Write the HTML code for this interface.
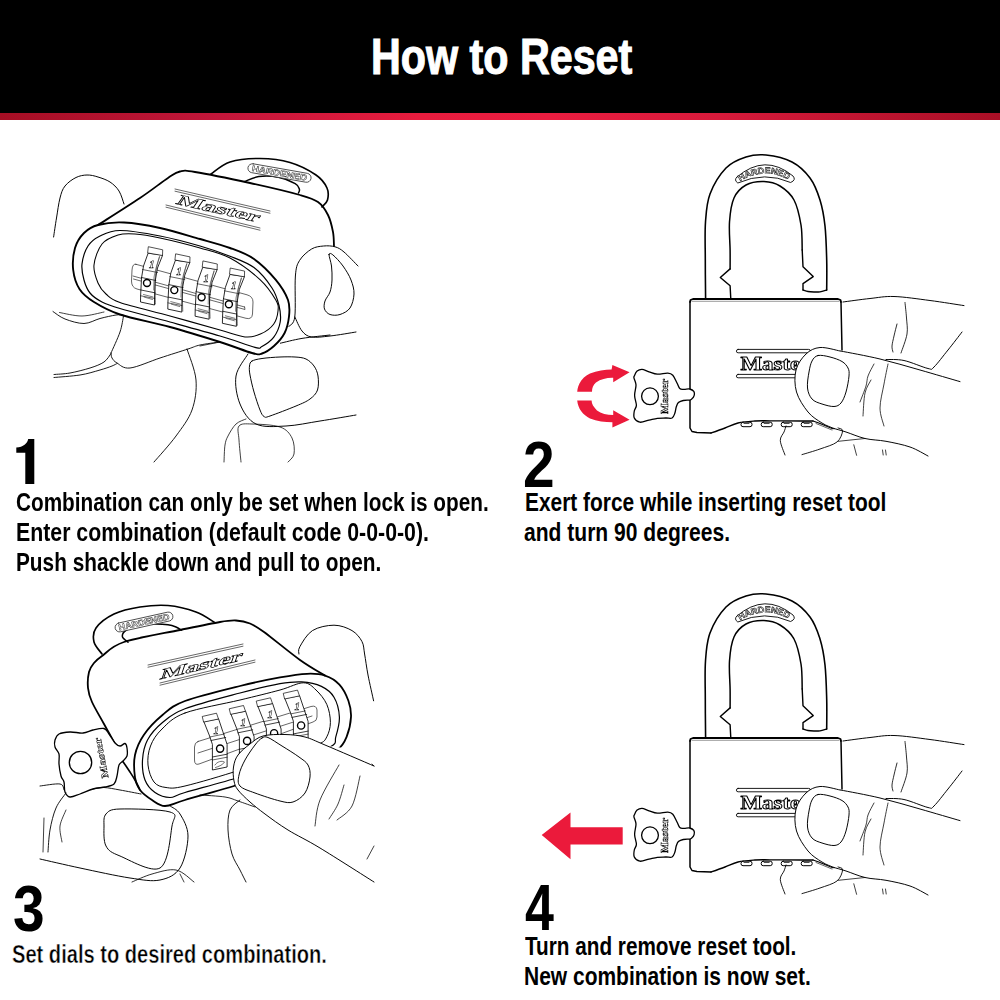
<!DOCTYPE html>
<html><head><meta charset="utf-8">
<style>
html,body{margin:0;padding:0;background:#fff;}
body{width:1000px;height:1000px;position:relative;overflow:hidden;font-family:"Liberation Sans",sans-serif;}
#hdr{position:absolute;left:0;top:0;width:1000px;height:113px;background:#000;}
#red{position:absolute;left:0;top:113px;width:1000px;height:7px;background:linear-gradient(90deg,#a60e24 0%,#c2163a 22%,#e81c3e 42%,#ea1d40 55%,#d71a3b 72%,#a90f26 100%);}
.t{position:absolute;white-space:nowrap;font-weight:bold;color:#000;transform-origin:0 0;line-height:1;}
#title{color:#fff;font-size:50px;-webkit-text-stroke:1.1px #fff;}
.num{font-size:65px;}
.ln{font-size:26px;}
svg{position:absolute;left:0;top:0;will-change:transform;}
</style></head><body>
<div id="hdr"></div><div id="red"></div>
<div class="t" id="title" style="left:371px;top:32px;transform:scaleX(0.825)">How to Reset</div>

<svg style="position:absolute;left:0;top:0" width="60" height="500"><path d="M25.3,484 L34.3,484 L34.3,439 L28.2,439 C27.2,443.5 23.5,447.2 16.3,447.4 L16.3,452.7 L25.3,452.7 Z" fill="#000"/></svg>
<div class="t ln" style="left:16.2px;top:489px;transform:scaleX(0.798)">Combination can only be set when lock is open.</div>
<div class="t ln" style="left:15.9px;top:519px;transform:scaleX(0.819)">Enter combination (default code 0-0-0-0).</div>
<div class="t ln" style="left:15.9px;top:549px;transform:scaleX(0.800)">Push shackle down and pull to open.</div>

<div class="t num" style="left:523.2px;top:432px;transform:scaleX(0.875)">2</div>
<div class="t ln" style="left:525px;top:489px;transform:scaleX(0.804)">Exert force while inserting reset tool</div>
<div class="t ln" style="left:524.2px;top:519px;transform:scaleX(0.81)">and turn 90 degrees.</div>

<div class="t num" style="left:13.2px;top:876px;transform:scaleX(0.875)">3</div>
<div class="t ln" style="left:12.2px;top:941px;transform:scaleX(0.773);-webkit-text-stroke:0.5px #fff">Set dials to desired combination.</div>

<div class="t num" style="left:525.2px;top:875px;transform:scaleX(0.8)">4</div>
<div class="t ln" style="left:525.4px;top:933px;transform:scaleX(0.797)">Turn and remove reset tool.</div>
<div class="t ln" style="left:524.4px;top:963px;transform:scaleX(0.807)">New combination is now set.</div>

<!--SVG--><svg width="1000" height="1000" viewBox="0 0 1000 1000" fill="none" stroke="#000" stroke-linecap="round" stroke-linejoin="round"><path d="M53.6,237C54.1,233.8 55.4,224.5 56.5,218C57.6,211.5 58.6,203.3 60,198C61.4,192.7 62.3,189.4 65,186C67.7,182.6 72.3,179.3 76,177.5C79.7,175.7 83.3,175.1 87,175C90.7,174.9 94.2,175.8 98,177C101.8,178.2 106.5,179.7 110,182C113.5,184.3 116.7,187.3 119,191C121.3,194.7 123.2,201.8 124,204" stroke-width="0.98" fill="none"/>
<path d="M98,225C105,220.5 128.3,205.8 140,198C151.7,190.2 161.3,182.4 168,178C174.7,173.6 175.5,172.5 180,171.5C184.5,170.5 183.3,170.1 195,172C206.7,173.9 232.5,179.2 250,183C267.5,186.8 288.7,191.8 300,195C311.3,198.2 313.3,198.7 318,202C322.7,205.3 325.5,210 328,215C330.5,220 332,226.8 333,232C334,237.2 333.8,243.7 334,246" stroke-width="1.80" fill="none"/>
<path d="M211,174C214.2,172 221.8,164.6 230,162C238.2,159.4 250,158.4 260,158.5C270,158.6 280.7,159.8 290,162.5C299.3,165.2 309.8,170.8 316,175C322.2,179.2 325.1,183.8 327,188C328.9,192.2 328.3,196.8 327.5,200C326.7,203.2 322.9,205.8 322,207" stroke-width="1.65" fill="none"/>
<path d="M244.8,181.5C247.1,180.7 253.2,177.3 258.8,176.6C264.4,175.9 272.3,176.1 278.4,177.3C284.5,178.5 291.7,181.6 295.2,183.6C298.7,185.6 298.8,187.6 299.4,189.2C299.9,190.8 298.6,192.4 298.5,193" stroke-width="1.50" fill="none"/>
<rect x="247.5" y="168.5" width="64" height="9" rx="4.5" transform="rotate(10 279.5 173)" stroke-width="0.8" stroke="#333" fill="#fff"/>
<text x="279.5" y="176" transform="rotate(10 279.5 173)" text-anchor="middle" font-size="8.5" font-weight="bold" fill="#fff" stroke="#222" stroke-width="0.45" textLength="56" lengthAdjust="spacingAndGlyphs">HARDENED</text>
<path d="M175,189L270,211" stroke-width="0.60" fill="none"/>
<path d="M166,205L260,228" stroke-width="0.60" fill="none"/>
<path d="M175,191.2L270,213.2" stroke-width="0.60" fill="none"/>
<path d="M166,207.2L260,230.2" stroke-width="0.60" fill="none"/>
<text x="0" y="5" transform="translate(219,208.5) rotate(12.5) skewX(-22)" text-anchor="middle" font-family="Liberation Serif" font-weight="bold" font-size="15" fill="#fff" stroke="#000" stroke-width="0.55" textLength="84" lengthAdjust="spacingAndGlyphs">Master</text>
<path d="M98,225C104.7,223.2 113.7,222 124,222.5C134.3,223 147.3,225.2 160,228C172.7,230.8 188.3,235.7 200,239C211.7,242.3 221,244.7 230,248C239,251.3 246.4,253.7 254,259C261.6,264.3 269.9,272.8 275.6,279.6C281.3,286.4 285.8,293.9 288,300C290.2,306.1 289.6,311 289,316.5C288.4,322 287.1,328.1 284.6,333C282.1,337.9 277.8,342.6 274,346C270.2,349.4 265.7,352.3 262,353.5C258.3,354.7 259,354.9 252,353C245,351.1 233.7,346.3 220,342C206.3,337.7 186.7,331.6 170,327C153.3,322.4 132.7,318.7 120,314.5C107.3,310.3 100.7,306.2 94,302C87.3,297.8 83.1,294.5 79.6,289.2C76.1,283.9 74,276.9 73.2,270C72.4,263.1 73.2,254.2 75,248C76.8,241.8 80.2,236.8 84,233C87.8,229.2 91.3,226.8 98,225Z" stroke-width="1.88" fill="none"/>
<path d="M120,230.5C110,230.5 105.3,233.4 100,236C94.7,238.6 91,241.3 88,246C85,250.7 82.7,258.3 82,264C81.3,269.7 82.7,275.2 84,280C85.3,284.8 87,289.3 90,293C93,296.7 97,299.4 102,302C107,304.6 108.7,305.2 120,308.5C131.3,311.8 153.3,317.4 170,322C186.7,326.6 205.8,331.8 220,336C234.2,340.2 248.1,345.5 255,347.3C261.9,349.1 258.4,348.5 261.5,346.8C264.6,345.1 270.5,341.5 273.6,337.4C276.7,333.3 279.3,327.3 280.2,322C281.1,316.7 280.4,311.2 279,305.5C277.6,299.8 276.2,294.3 272,288C267.8,281.7 261,272.9 254,267.6C247,262.3 239,259.8 230,256.2C221,252.6 211.7,249.4 200,246C188.3,242.6 173.3,238.6 160,236C146.7,233.4 130,230.5 120,230.5Z" stroke-width="1.20" fill="none"/>
<path d="M118,235C112.5,236.7 106,239 102,244C98,249 94.7,258.5 94,265C93.3,271.5 96,278.2 98,283C100,287.8 102.3,290.8 106,294C109.7,297.2 109.3,298.8 120,302.5C130.7,306.2 153.3,311.4 170,316C186.7,320.6 207.5,326.5 220,330C232.5,333.5 238.3,336.2 245,336.9C251.7,337.6 255.6,336.2 260.4,334.1C265.2,332 270.7,328.1 273.6,324.2C276.5,320.3 277.6,315 278,311C278.4,307 278.8,305.2 275.8,300C272.8,294.8 267.6,286.6 260,279.6C252.4,272.6 240,263.3 230,258C220,252.7 211.7,251.3 200,248C188.3,244.7 170.8,240.3 160,238C149.2,235.7 142,234.5 135,234C128,233.5 123.5,233.3 118,235Z" stroke-width="1.05" fill="none"/>
<path d="M136,264.3 L247,294.8 Q253,296.5 253,302 L252.5,314 Q252,319.8 246,318.3 L137,289 Q131.5,287.5 131.5,281 L132,270 Q132.5,263.2 136,264.3 Z" stroke-width="0.7" stroke="#222"/>
<path d="M133,276L244.6,307" stroke-width="0.60" fill="none"/>
<path d="M244.6,307 L245,309.5 L133.5,279" stroke-width="0.60" fill="none"/>
<g transform="translate(0.0,0.0)"><path d="M148,253.5 L143.5,266 L141.5,278 L140.6,296 L140.5,302 L154.5,305 L154.5,298 L155.2,281 L157.5,268 L162.5,255.5Z" stroke-width="0.83" fill="#fff"/><path d="M148.7,246.8 L162.7,249.8 L162.5,255.5 L148,253Z" stroke-width="0.68" fill="#fff"/><path d="M142.5,269.5 L157.5,272.5" stroke-width="0.60" fill="none"/><path d="M141.5,277.5 L155.8,280.5" stroke-width="0.75" fill="none"/><path d="M141,290 L155,292.8" stroke-width="0.75" fill="none"/><path d="M140.7,295.8 L154.7,298.5" stroke-width="0.60" fill="none"/><path d="M159.5,257C159,258.8 157.2,264 156.5,268C155.8,272 155.2,275 155,281C154.8,287 155.4,300.2 155.5,304" stroke-width="0.52" fill="none"/><circle cx="147" cy="283" r="3.5" stroke-width="1.4" fill="none"/><text x="0" y="0" transform="translate(151,267.6) skewX(-12)" font-size="11" font-family="Liberation Serif" font-weight="bold" fill="#fff" stroke="#000" stroke-width="0.5" text-anchor="middle">1</text><path d="M143.5,294.5 L153,297 M144,297 L152.5,299.5" stroke-width="0.7" stroke="#444"/><path d="M159.5,256.5 L156,268 L154,277 L153.6,290" stroke-width="0.6" stroke="#444" fill="none"/></g>
<g transform="translate(27.3,7.1)"><path d="M148,253.5 L143.5,266 L141.5,278 L140.6,296 L140.5,302 L154.5,305 L154.5,298 L155.2,281 L157.5,268 L162.5,255.5Z" stroke-width="0.83" fill="#fff"/><path d="M148.7,246.8 L162.7,249.8 L162.5,255.5 L148,253Z" stroke-width="0.68" fill="#fff"/><path d="M142.5,269.5 L157.5,272.5" stroke-width="0.60" fill="none"/><path d="M141.5,277.5 L155.8,280.5" stroke-width="0.75" fill="none"/><path d="M141,290 L155,292.8" stroke-width="0.75" fill="none"/><path d="M140.7,295.8 L154.7,298.5" stroke-width="0.60" fill="none"/><path d="M159.5,257C159,258.8 157.2,264 156.5,268C155.8,272 155.2,275 155,281C154.8,287 155.4,300.2 155.5,304" stroke-width="0.52" fill="none"/><circle cx="147" cy="283" r="3.5" stroke-width="1.4" fill="none"/><text x="0" y="0" transform="translate(151,267.6) skewX(-12)" font-size="11" font-family="Liberation Serif" font-weight="bold" fill="#fff" stroke="#000" stroke-width="0.5" text-anchor="middle">1</text><path d="M143.5,294.5 L153,297 M144,297 L152.5,299.5" stroke-width="0.7" stroke="#444"/><path d="M159.5,256.5 L156,268 L154,277 L153.6,290" stroke-width="0.6" stroke="#444" fill="none"/></g>
<g transform="translate(54.6,14.2)"><path d="M148,253.5 L143.5,266 L141.5,278 L140.6,296 L140.5,302 L154.5,305 L154.5,298 L155.2,281 L157.5,268 L162.5,255.5Z" stroke-width="0.83" fill="#fff"/><path d="M148.7,246.8 L162.7,249.8 L162.5,255.5 L148,253Z" stroke-width="0.68" fill="#fff"/><path d="M142.5,269.5 L157.5,272.5" stroke-width="0.60" fill="none"/><path d="M141.5,277.5 L155.8,280.5" stroke-width="0.75" fill="none"/><path d="M141,290 L155,292.8" stroke-width="0.75" fill="none"/><path d="M140.7,295.8 L154.7,298.5" stroke-width="0.60" fill="none"/><path d="M159.5,257C159,258.8 157.2,264 156.5,268C155.8,272 155.2,275 155,281C154.8,287 155.4,300.2 155.5,304" stroke-width="0.52" fill="none"/><circle cx="147" cy="283" r="3.5" stroke-width="1.4" fill="none"/><text x="0" y="0" transform="translate(151,267.6) skewX(-12)" font-size="11" font-family="Liberation Serif" font-weight="bold" fill="#fff" stroke="#000" stroke-width="0.5" text-anchor="middle">1</text><path d="M143.5,294.5 L153,297 M144,297 L152.5,299.5" stroke-width="0.7" stroke="#444"/><path d="M159.5,256.5 L156,268 L154,277 L153.6,290" stroke-width="0.6" stroke="#444" fill="none"/></g>
<g transform="translate(81.9,21.3)"><path d="M148,253.5 L143.5,266 L141.5,278 L140.6,296 L140.5,302 L154.5,305 L154.5,298 L155.2,281 L157.5,268 L162.5,255.5Z" stroke-width="0.83" fill="#fff"/><path d="M148.7,246.8 L162.7,249.8 L162.5,255.5 L148,253Z" stroke-width="0.68" fill="#fff"/><path d="M142.5,269.5 L157.5,272.5" stroke-width="0.60" fill="none"/><path d="M141.5,277.5 L155.8,280.5" stroke-width="0.75" fill="none"/><path d="M141,290 L155,292.8" stroke-width="0.75" fill="none"/><path d="M140.7,295.8 L154.7,298.5" stroke-width="0.60" fill="none"/><path d="M159.5,257C159,258.8 157.2,264 156.5,268C155.8,272 155.2,275 155,281C154.8,287 155.4,300.2 155.5,304" stroke-width="0.52" fill="none"/><circle cx="147" cy="283" r="3.5" stroke-width="1.4" fill="none"/><text x="0" y="0" transform="translate(151,267.6) skewX(-12)" font-size="11" font-family="Liberation Serif" font-weight="bold" fill="#fff" stroke="#000" stroke-width="0.5" text-anchor="middle">1</text><path d="M143.5,294.5 L153,297 M144,297 L152.5,299.5" stroke-width="0.7" stroke="#444"/><path d="M159.5,256.5 L156,268 L154,277 L153.6,290" stroke-width="0.6" stroke="#444" fill="none"/></g>
<path d="M53,311.5C55,312.8 59.8,317 65,319C70.2,321 78.2,323.6 84,323.5C89.8,323.4 94.7,319.9 100,318.5C105.3,317.1 112.2,315.6 116,315C119.8,314.4 121.8,315 123,315" stroke-width="0.90" fill="none"/>
<path d="M59.5,312.5C63.2,313.1 74.6,316.1 82,316C89.4,315.9 100.3,312.7 104,312" stroke-width="0.75" fill="none"/>
<path d="M123.5,316C122.9,318.7 122.1,325.8 120,332C117.9,338.2 112.5,349.5 111,353" stroke-width="0.90" fill="none"/>
<path d="M54,374.5C56.7,374.2 64,374.1 70,373C76,371.9 84.3,369.8 90,368C95.7,366.2 100.5,364.4 104,362C107.5,359.6 109.8,354.9 111,353.5" stroke-width="0.90" fill="none"/>
<path d="M54,377.5C58.3,377.1 72.3,376.2 80,375C87.7,373.8 94.7,371.5 100,370C105.3,368.5 109.2,367.1 112,366C114.8,364.9 116.2,363.9 117,363.5" stroke-width="0.90" fill="none"/>
<path d="M111,353C111.2,353.8 111,356.3 112,358C113,359.7 114,361.3 117,363C120,364.7 122.8,368.8 130,368C137.2,367.2 150.3,361.2 160,358C169.7,354.8 181.3,351.2 188,349C194.7,346.8 194.7,346.2 200,345C205.3,343.8 216.7,342.5 220,342" stroke-width="0.90" fill="none"/>
<path d="M187,349C188.5,354.2 195.2,369.8 196,380C196.8,390.2 195.3,400.7 192,410C188.7,419.3 182.3,427.3 176,436C169.7,444.7 157.7,457.7 154,462" stroke-width="0.90" fill="none"/>
<path d="M200,346L220,342" stroke-width="0.75" fill="none"/>
<path d="M288.8,326.4C289.8,324.8 293.7,325.2 294.8,316.8C295.9,308.4 294.6,285.4 295.4,276C296.2,266.6 296.9,264.9 299.6,260.4C302.3,255.9 307.6,251.4 311.6,249C315.6,246.6 319.7,246.4 323.6,246C327.5,245.6 331.6,245.8 335,246.8C338.4,247.8 340.2,248.8 344,252C347.8,255.2 355.7,263.7 358,266" stroke-width="0.98" fill="none"/>
<path d="M329,254.5C328.8,256.3 331,261.8 331.5,266C332,270.2 332.2,275.7 332,280C331.8,284.3 331.2,288.5 330,292C328.8,295.5 325.9,298.2 325,301C324.1,303.8 323.7,306.8 324.5,309C325.3,311.2 327.4,313.6 330,314.5C332.6,315.4 336.7,315.6 340,314.5C343.3,313.4 347.7,311.4 350,308C352.3,304.6 353.8,298.7 354,294C354.2,289.3 352.8,284.7 351,280C349.2,275.3 346,270.2 343,266C340,261.8 335.3,256.9 333,255C330.7,253.1 329.2,252.7 329,254.5Z" stroke-width="0.98" fill="none"/>
<path d="M294.8,316.8C296,319.2 299.2,327.6 302,331C304.8,334.4 306.9,336.2 311.6,337C316.3,337.8 322.6,336.8 330,336C337.4,335.2 351.7,332.7 356,332" stroke-width="0.98" fill="none"/>
<path d="M280.4,343.2C284,342.4 293.7,339.8 302,338.4C310.3,337 325.3,335.6 330,335" stroke-width="0.98" fill="none"/>
<path d="M248,354C246,357.7 237.3,367.7 236,376C234.7,384.3 236.7,396 240,404C243.3,412 248.3,420.3 256,424C263.7,427.7 275.3,426.5 286,426C296.7,425.5 308.3,422.8 320,421C331.7,419.2 350,416 356,415" stroke-width="0.98" fill="none"/>
<path d="M252,361C254.1,359.8 257.3,359.2 262,358.5C266.7,357.8 274.5,357.2 280,357C285.5,356.8 290.7,356.7 295,357C299.3,357.3 302.8,357.5 306,359C309.2,360.5 312,363.2 314,366C316,368.8 317.4,372 318,376C318.6,380 318.8,386.2 317.5,390C316.2,393.8 313.6,396.3 310,399C306.4,401.7 302.7,403.2 296,406C289.3,408.8 275.3,414.2 270,416C264.7,417.8 265.7,417.5 264,416.5C262.3,415.5 261.7,414.1 260,410C258.3,405.9 255.7,397.8 254,392C252.3,386.2 250.8,379.3 250,375C249.2,370.7 249.2,368.3 249.5,366C249.8,363.7 249.9,362.2 252,361Z" stroke-width="0.98" fill="none"/>
<path d="M224,462C224.2,459.2 224.3,449.3 225,445C225.7,440.7 226.2,439.5 228,436C229.8,432.5 233,426.8 236,424C239,421.2 244.3,419.8 246,419" stroke-width="0.75" fill="none"/>
<path d="M241,462C240.7,458.3 239.3,446 239,440C238.7,434 236.8,428.7 239,426C241.2,423.3 245.2,423.8 252,424C258.8,424.2 273.3,424.7 280,427C286.7,429.3 289.7,433.5 292,438C294.3,442.5 294.7,450 294,454C293.3,458 289,460.7 288,462" stroke-width="0.75" fill="none"/>
<g id="lock2"><path d="M705.6,299C705.5,292.5 705.3,272.8 705.3,260C705.3,247.2 704.7,233 705.5,222C706.3,211 706.6,203 710,194C713.4,185 720,174.2 726,168C732,161.8 739.3,159.2 746,157C752.7,154.8 758.3,154.2 766,155C773.7,155.8 784.7,158.2 792,162C799.3,165.8 805.3,171.7 810,178C814.7,184.3 817.5,192 820,200C822.5,208 823.9,216 825,226C826.1,236 826.4,249.3 826.7,260C827,270.7 826.7,285 826.7,290" stroke-width="1.58" fill="none"/>
<path d="M826.7,290C825.6,290.3 822,291.5 820,291.8C818,292.1 816.8,292.1 814.8,292C812.8,291.9 810,291.8 808,291.5C806,291.2 803.8,290.2 803,290" stroke-width="1.35" fill="none"/>
<path d="M803,290 L803,283.6 L813.2,276.6 L803,266.8 L802.2,250" stroke-width="1.42" fill="none"/>
<path d="M802.2,250C802,245.8 802.4,233.3 801,225C799.6,216.7 797.5,206.5 794,200C790.5,193.5 785,189.1 780,186C775,182.9 769.7,181.7 764,181.5C758.3,181.3 751,182.2 746,185C741,187.8 736.8,191.8 734,198C731.2,204.2 730.1,213.3 729.5,222C728.9,230.7 730,242.2 730.1,250C730.2,257.8 730.1,265.8 730.1,268.9" stroke-width="1.50" fill="none"/>
<path d="M730.1,268.9 L720.3,277.5 L730.1,285.7 L730.8,299" stroke-width="1.42" fill="none"/>
<path d="M737,177 Q765,153 793,176 Q796.5,180 790.6,182.5 Q765,171 737.8,183 Q733.5,180 737,177 Z" stroke-width="0.9"/>
<path id="hpath" d="M740,181.5 Q765,165.5 791,181" fill="none" stroke="none"/>
<text font-size="8.5" font-weight="bold" fill="#fff" stroke="#000" stroke-width="0.55"><textPath href="#hpath" textLength="51" lengthAdjust="spacingAndGlyphs">HARDENED</textPath></text>
<path d="M690,302 L690.5,300 L693,299 L838,299 L840.5,300 L841,302" stroke-width="1.80" fill="none"/>
<path d="M692,301.3L839,301.3" stroke-width="0.75" fill="none" stroke="#777"/>
<path d="M690,302 L690,428 L692,431.5 L697,432.5 L711,433" stroke-width="1.50" fill="none"/>
<path d="M711,433C713.3,432.2 720.5,429.7 725,428C729.5,426.3 733,424.2 738,423C743,421.8 749.7,421.4 755,421C760.3,420.6 762.5,420.8 770,420.8C777.5,420.8 792.8,421 800,421C807.2,421 810.8,421 813,421" stroke-width="1.35" fill="none"/>
<path d="M813,421 L818.8,423 L832.8,428.7 L837,428" stroke-width="1.12" fill="none"/>
<path d="M816,423.5L832,430" stroke-width="0.60" fill="none"/>
<path d="M841,302L842,350" stroke-width="1.50" fill="none"/>
<rect x="741" y="422.2" width="11" height="4.5" rx="2" stroke-width="1" fill="#fff"/>
<path d="M744,423.5 h5" stroke-width="0.7"/>
<rect x="761.2" y="422.2" width="11" height="4.5" rx="2" stroke-width="1" fill="#fff"/>
<path d="M764.2,423.5 h5" stroke-width="0.7"/>
<rect x="781.2" y="422.2" width="11" height="4.5" rx="2" stroke-width="1" fill="#fff"/>
<path d="M784.2,423.5 h5" stroke-width="0.7"/>
<rect x="801.2" y="422.2" width="11" height="4.5" rx="2" stroke-width="1" fill="#fff"/>
<path d="M804.2,423.5 h5" stroke-width="0.7"/>
<rect x="736.4" y="349.4" width="74" height="3.4" rx="1.7" stroke-width="0.9"/>
<rect x="736.4" y="374.4" width="64" height="3.4" rx="1.7" stroke-width="0.9"/>
<text x="740.4" y="369.6" font-family="Liberation Serif" font-weight="bold" font-size="18.5" fill="#fff" stroke="#000" stroke-width="0.9" textLength="70" lengthAdjust="spacingAndGlyphs">Master</text>
<path d="M634.3,376C634.8,374.8 635.8,372.2 637.1,371.1C638.4,370 640,369.2 642,369.3C644,369.4 646.4,371 649,371.8C651.6,372.6 654.2,374 657.4,374.2C660.5,374.4 665.3,373 667.9,373.2C670.5,373.4 671.3,373.7 672.8,375.3C674.3,376.9 675.8,380.8 677,383C678.2,385.2 678.6,387.6 679.8,388.6C681,389.7 682.4,389.2 684,389.3C685.6,389.4 688,388.6 689.6,389C691.2,389.4 693,390.3 693.8,391.4C694.5,392.5 694.5,394.3 694.1,395.6C693.8,396.9 692.5,398.4 691.7,399.1C691,399.9 691,399.9 689.6,400.1C688.2,400.3 685.2,400.1 683.3,400.5C681.4,400.9 679.6,401.6 678.4,402.6C677.2,403.7 676.9,405.1 676.3,406.8C675.7,408.6 675.6,411.2 674.9,413.1C674.2,415 673.6,417.2 672.1,418C670.6,418.8 668.2,417.9 665.8,418C663.3,418.1 660.2,417.9 657.4,418.3C654.6,418.7 651.9,419.5 649,420.1C646.1,420.8 642.4,422.6 639.9,422.2C637.4,421.8 635.2,419.9 634.3,418C633.4,416.1 633.9,413.1 634.3,411C634.6,408.9 636.3,408 636.4,405.4C636.5,402.8 634.7,399 634.6,395.6C634.5,392.2 636.1,388 636,385.1C635.9,382.2 634.3,379.6 634,378.1C633.7,376.6 633.8,377.2 634.3,376Z" stroke-width="1.31" fill="#fff"/>
<circle cx="650" cy="396.3" r="8.4" stroke-width="1.3"/>
<text x="0" y="0" transform="translate(668,414) rotate(-90)" font-family="Liberation Serif" font-weight="bold" font-size="9.5" fill="#fff" stroke="#000" stroke-width="0.5" textLength="35" lengthAdjust="spacingAndGlyphs">Master</text>
<path d="M843,302C847.5,301.4 861.5,299.4 870,298.5C878.5,297.6 884,296.2 894,296.5C904,296.8 918.3,299 930,300.5C941.7,302 958.3,304.8 964,305.6" stroke-width="0.98" fill="none"/>
<path d="M905,302.5C905.2,305.1 906.2,312.8 906.5,318C906.8,323.2 907.9,328.2 907,334C906.1,339.8 902,349.8 901,353" stroke-width="0.83" fill="none"/>
<path d="M897,324C896.5,326 894.8,332.3 894,336C893.2,339.7 892.2,343.3 892,346C891.8,348.7 892.8,351 893,352" stroke-width="0.83" fill="none"/>
<path d="M962,332C959.7,335 952.7,344.2 948,350C943.3,355.8 937.3,363.9 934,367C930.7,370.1 933,369.6 928,368.5C923,367.4 911,362 904,360.5C897,359 889,359.7 886,359.5" stroke-width="0.98" fill="none"/>
<path d="M806,354C810,350.2 814.3,348 820,347.5C825.7,347 830,349.1 840,351C850,352.9 866.7,355.8 880,359C893.3,362.2 906.7,366.2 920,370C933.3,373.8 953.3,366.6 960,381.6C966.7,396.6 965.3,447.6 960,460C954.7,472.4 936.3,458.2 928,456C919.7,453.8 917,449.4 910,447C903,444.6 893.5,442.7 886,441.3C878.5,439.9 871.7,440.1 865,438.5C858.3,436.9 851.2,433.7 846,432C840.8,430.3 838,430 834,428.5C830,427 826.3,425.8 822,423C817.7,420.2 812.2,417.2 808,412C803.8,406.8 798.5,399 796.5,392C794.5,385 794.4,376.3 796,370C797.6,363.7 802,357.8 806,354Z" stroke-width="0.00" fill="#fff" stroke="none"/>
<path d="M840.5,351C847.1,352.3 866.8,355.8 880,359C893.2,362.2 906.7,366.2 920,370C933.3,373.8 953.3,379.7 960,381.6" stroke-width="0.98" fill="none"/>
<path d="M840,351C836.7,350.4 825.7,347 820,347.5C814.3,348 810,350.2 806,354C802,357.8 797.6,363.7 796,370C794.4,376.3 794.5,385 796.5,392C798.5,399 803.8,406.8 808,412C812.2,417.2 817.7,420.2 822,423C826.3,425.8 832,427.6 834,428.5" stroke-width="0.98" fill="none"/>
<path d="M834,428.5C836,429.1 840.8,430.3 846,432C851.2,433.7 858.3,436.9 865,438.5C871.7,440.1 878.5,439.9 886,441.3C893.5,442.7 903,444.6 910,447C917,449.4 925,454.5 928,456" stroke-width="0.98" fill="none"/>
<path d="M818,355.5C821,354.8 826,356 830,357C834,358 839,359.7 842,361.5C845,363.3 846.8,365.6 848,368C849.2,370.4 849.3,372 849,376C848.7,380 847.3,387.5 846,392C844.7,396.5 843,400.6 841,403C839,405.4 837.2,406.3 834,406.5C830.8,406.7 825.7,405.2 822,404C818.3,402.8 814.4,401.7 812,399C809.6,396.3 808,392.5 807.5,388C807,383.5 808.2,376.5 809,372C809.8,367.5 810.5,363.8 812,361C813.5,358.2 815,356.2 818,355.5Z" stroke-width="0.98" fill="none"/>
<path d="M874,364C873,366 869.3,372.3 868,376C866.7,379.7 867.3,381.7 866,386C864.7,390.3 861,399.3 860,402" stroke-width="0.75" fill="none"/>
<path d="M871,380C870,382.2 866.3,387 865,393C863.7,399 863.3,412.2 863,416" stroke-width="0.75" fill="none"/>
<path d="M888,364C887.3,367.3 885.3,376.7 884,384C882.7,391.3 880,401 880,408C880,415 883.3,423 884,426" stroke-width="0.75" fill="none"/>
<path d="M785,455C784.2,452.6 780.5,444.4 780.3,440.6C780.1,436.8 783,434.4 784,432C785,429.6 785.7,427 786,426" stroke-width="0.90" fill="none"/>
<path d="M802,454.6C805,453.7 814.2,451.1 820,449C825.8,446.9 833.2,445 837,442C840.8,439 842.4,433.1 842.6,430.8C842.8,428.5 838.8,428.5 838,428" stroke-width="0.90" fill="none"/>
<path d="M838.4,441.3L865,438.5" stroke-width="0.75" fill="none"/>
<path d="M853.8,444.8L856.6,455.3" stroke-width="0.75" fill="none"/>
<path d="M882.5,450L883.2,455" stroke-width="0.75" fill="none"/>
<path d="M885.5,450L886.2,455" stroke-width="0.75" fill="none"/></g>
<use href="#lock2" transform="translate(0,439)"/>
<path d="M577.2,391.8 C578,382 584,376 590,373.5 C597,370.5 605,369.5 611.6,369.4 L612.4,365 L629.6,372.2 L613.2,382.2 L613.2,377.8 C607,377.6 601,379 596,382.5 C593,385 592,388 592,391.8 Z" fill="#eb1a3b" stroke="none"/>
<path d="M577.2,400.6 C578,409 583,415 590,418.5 C597,421.5 605,422.2 612.4,422.2 L612.4,427.4 L629.6,419.8 L613.2,410.2 L613.2,415 C607,415 601,413.5 597,410.5 C593.5,407 591.6,404 591.6,400.6 Z" fill="#eb1a3b" stroke="none"/>
<path d="M541.7,834.9 L570.5,812.4 L570.5,827.2 L622.7,827.2 L622.7,844.4 L570.5,844.4 L570.5,859.2 Z" fill="#eb1a3b" stroke="none"/>

<path d="M299,654C299.1,652.8 297.6,650.7 299.8,646.8C302,642.9 306.7,634.2 312.4,630.6C318.1,627 327.4,625.2 334,625.2C340.6,625.2 347.4,627.9 352,630.6C356.6,633.3 359.8,637.5 361.9,641.4C364,645.3 363.6,648.4 364.6,654C365.6,659.6 366.5,667.2 368,675C369.5,682.8 372.7,696.5 373.6,700.8" stroke-width="0.98" fill="none"/>
<path d="M102,654C100.7,652 95,646.3 94,642C93,637.7 92.7,632.7 96,628C99.3,623.3 106.7,617.5 114,614C121.3,610.5 131,608.4 140,607C149,605.6 158.7,604.7 168,605.5C177.3,606.3 188.3,609.2 196,612C203.7,614.8 211,620.3 214,622" stroke-width="1.65" fill="none"/>
<path d="M128,642.2C127.1,641.3 122.7,638.6 122.4,636.6C122.1,634.6 123.5,631.9 126.4,630C129.3,628.1 135.2,626.5 140,625.5C144.8,624.5 150.3,624.1 155,624C159.7,623.9 164.5,624.3 168,624.8C171.5,625.3 173.7,626.1 176,627C178.3,627.9 180.7,629.7 181.6,630.2" stroke-width="1.50" fill="none"/>
<rect x="114.5" y="617.5" width="59" height="9" rx="4.5" transform="rotate(-12.5 144 622)" stroke-width="0.8" stroke="#333" fill="#fff"/>
<text x="144" y="625" transform="rotate(-12.5 144 622)" text-anchor="middle" font-size="8.5" font-weight="bold" fill="#fff" stroke="#222" stroke-width="0.45" textLength="52" lengthAdjust="spacingAndGlyphs">HARDENED</text>
<path d="M115,743.8C113.2,740.5 107.8,731 104,724C100.2,717 94.7,708 92,702C89.3,696 88.5,693 88,688C87.5,683 88,676.2 89,672C90,667.8 91.8,665.7 94,663C96.2,660.3 97,659.5 102,656C107,652.5 111,646.3 124,642C137,637.7 164,633.3 180,630C196,626.7 210.7,623.6 220,622C229.3,620.4 231,620.2 236,620.5C241,620.8 245.3,621.6 250,623.5C254.7,625.4 255.7,625.9 264,632C272.3,638.1 289.8,652.7 300,660C310.2,667.3 320.8,673 325,675.6" stroke-width="1.80" fill="none"/>
<path d="M122.5,761C123.8,762.8 127.9,768.8 130,772C132.1,775.2 133.3,777 135,780C136.7,783 139.2,788.3 140,790" stroke-width="1.65" fill="none"/>
<path d="M185,701C172.1,705.8 169.4,709.3 162.5,715C155.6,720.7 148.3,728.3 143.8,735C139.2,741.7 136.5,747.9 135,755C133.5,762.1 134.2,771.7 135,777.5C135.8,783.3 137.2,786.2 140,790C142.8,793.8 147.8,797.3 152,800C156.2,802.7 159.5,806 165,806C170.5,806 172.5,803.7 185,800C197.5,796.3 222.5,789.7 240,784C257.5,778.3 276.7,771 290,766C303.3,761 312.1,756.8 320,754C327.9,751.2 333.2,752.3 337.6,749.4C342,746.5 344.4,742.2 346.6,736.8C348.8,731.4 350.7,723 351,717C351.3,711 350.3,706.2 348.4,700.8C346.5,695.4 343.3,688.8 339.4,684.6C335.5,680.4 330.4,677.4 325,675.6C319.6,673.8 314.5,673.5 307,673.8C299.5,674.1 291.2,675.4 280,677.4C268.8,679.4 255.8,682.1 240,686C224.2,689.9 197.9,696.2 185,701Z" stroke-width="1.80" fill="none"/>
<path d="M185,708.8C172.1,713.7 168.8,717.3 162.5,722.5C156.2,727.7 150.8,733.8 147.5,740C144.2,746.2 142.9,753.3 142.5,760C142.1,766.7 142.9,774.6 145,780C147.1,785.4 150.8,789.6 155,792.5C159.2,795.4 165,797.5 170,797.5C175,797.5 173.3,795.9 185,792.5C196.7,789.1 222.5,782.4 240,777C257.5,771.6 274.9,765 290,760C305.1,755 322.8,750.6 330.4,746.7C338,742.8 334.3,741.8 335.8,736.8C337.3,731.8 339.7,723.6 339.4,717C339.1,710.4 337,702.3 334,697.2C331,692.1 326.8,689 321.4,686.4C316,683.8 308.5,682.3 301.6,681.9C294.7,681.5 290.3,681.9 280,683.7C269.7,685.6 255.8,688.8 240,693C224.2,697.2 197.9,703.8 185,708.8Z" stroke-width="1.20" fill="none"/>
<path d="M185,713C172,717.8 167.8,723.5 162,729C156.2,734.5 152.8,740 150.5,746C148.2,752 147.4,759 148,765C148.6,771 151,778.2 154,782C157,785.8 160.8,786.8 166,787.5C171.2,788.2 172.7,788.9 185,786C197.3,783.1 222.5,775.7 240,770C257.5,764.3 276.9,756.3 290,752C303.1,747.7 312.6,746.5 318.7,744C324.8,741.5 324.9,740.4 326.8,736.8C328.8,733.2 330.4,727.8 330.4,722.4C330.4,717 329.2,709.8 326.8,704.4C324.4,699 319.9,693.6 316,690C312.1,686.4 309.4,682.8 303.4,682.8C297.4,682.8 290.6,687.1 280,690C269.4,692.9 255.8,696.2 240,700C224.2,703.8 198,708.2 185,713Z" stroke-width="0.98" fill="none"/>
<path d="M148,665L243,644" stroke-width="0.60" fill="none"/>
<path d="M160,683L255,660" stroke-width="0.60" fill="none"/>
<path d="M148,667.2L243,646.2" stroke-width="0.60" fill="none"/>
<path d="M160,685.2L255,662.2" stroke-width="0.60" fill="none"/>
<text x="0" y="5" transform="translate(202,664.5) rotate(-13) skewX(-32)" text-anchor="middle" font-family="Liberation Serif" font-weight="bold" font-size="14" fill="#fff" stroke="#000" stroke-width="0.55" textLength="84" lengthAdjust="spacingAndGlyphs">Master</text>
<path d="M198,741.5 L311,706.5 Q316.5,705 317,710 L317,717 Q317,721 313,722 L199,764 Q194.5,765.5 194.5,760 L194.5,747 Q194.5,742.5 198,741.5 Z" stroke-width="0.7" stroke="#222"/>
<path d="M198,753L312,716" stroke-width="0.60" fill="none"/>
<g transform="translate(0,-0.0)"><path d="M204,722 L209.6,736 L212.4,744.4 L212.4,770 L227.1,767 L227.1,744.4 L222.9,731.8 L218.7,719.2Z" stroke-width="0.83" fill="#fff"/><path d="M202.6,716.4 L216.5,713.2 L218.5,719 L204,722Z" stroke-width="0.68" fill="#fff"/><path d="M209.8,737 L224.3,734" stroke-width="0.60" fill="none"/><path d="M211,740.5 L225.7,737.5" stroke-width="0.75" fill="none"/><path d="M212.4,757 L227.1,754.2" stroke-width="0.75" fill="none"/><path d="M212.4,760 L227.1,757.2" stroke-width="0.60" fill="none"/><circle cx="220.1" cy="748.6" r="3.6" stroke-width="1.4"/><text x="0" y="0" transform="translate(215.5,733.5) skewX(-12)" font-size="11" font-family="Liberation Serif" font-weight="bold" fill="#fff" stroke="#000" stroke-width="0.5" text-anchor="middle">1</text><path d="M215,765 C217,761.5 222,760.5 224.5,762 C222.5,765.5 218,766.5 215.5,767.5" stroke-width="0.7" stroke="#333"/></g>
<g transform="translate(27,-7.7)"><path d="M204,722 L209.6,736 L212.4,744.4 L212.4,770 L227.1,767 L227.1,744.4 L222.9,731.8 L218.7,719.2Z" stroke-width="0.83" fill="#fff"/><path d="M202.6,716.4 L216.5,713.2 L218.5,719 L204,722Z" stroke-width="0.68" fill="#fff"/><path d="M209.8,737 L224.3,734" stroke-width="0.60" fill="none"/><path d="M211,740.5 L225.7,737.5" stroke-width="0.75" fill="none"/><path d="M212.4,757 L227.1,754.2" stroke-width="0.75" fill="none"/><path d="M212.4,760 L227.1,757.2" stroke-width="0.60" fill="none"/><circle cx="220.1" cy="748.6" r="3.6" stroke-width="1.4"/><text x="0" y="0" transform="translate(215.5,733.5) skewX(-12)" font-size="11" font-family="Liberation Serif" font-weight="bold" fill="#fff" stroke="#000" stroke-width="0.5" text-anchor="middle">1</text><path d="M215,765 C217,761.5 222,760.5 224.5,762 C222.5,765.5 218,766.5 215.5,767.5" stroke-width="0.7" stroke="#333"/></g>
<g transform="translate(54,-15.4)"><path d="M204,722 L209.6,736 L212.4,744.4 L212.4,770 L227.1,767 L227.1,744.4 L222.9,731.8 L218.7,719.2Z" stroke-width="0.83" fill="#fff"/><path d="M202.6,716.4 L216.5,713.2 L218.5,719 L204,722Z" stroke-width="0.68" fill="#fff"/><path d="M209.8,737 L224.3,734" stroke-width="0.60" fill="none"/><path d="M211,740.5 L225.7,737.5" stroke-width="0.75" fill="none"/><path d="M212.4,757 L227.1,754.2" stroke-width="0.75" fill="none"/><path d="M212.4,760 L227.1,757.2" stroke-width="0.60" fill="none"/><circle cx="220.1" cy="748.6" r="3.6" stroke-width="1.4"/><text x="0" y="0" transform="translate(215.5,733.5) skewX(-12)" font-size="11" font-family="Liberation Serif" font-weight="bold" fill="#fff" stroke="#000" stroke-width="0.5" text-anchor="middle">1</text><path d="M215,765 C217,761.5 222,760.5 224.5,762 C222.5,765.5 218,766.5 215.5,767.5" stroke-width="0.7" stroke="#333"/></g>
<g transform="translate(81,-23.1)"><path d="M204,722 L209.6,736 L212.4,744.4 L212.4,770 L227.1,767 L227.1,744.4 L222.9,731.8 L218.7,719.2Z" stroke-width="0.83" fill="#fff"/><path d="M202.6,716.4 L216.5,713.2 L218.5,719 L204,722Z" stroke-width="0.68" fill="#fff"/><path d="M209.8,737 L224.3,734" stroke-width="0.60" fill="none"/><path d="M211,740.5 L225.7,737.5" stroke-width="0.75" fill="none"/><path d="M212.4,757 L227.1,754.2" stroke-width="0.75" fill="none"/><path d="M212.4,760 L227.1,757.2" stroke-width="0.60" fill="none"/><circle cx="220.1" cy="748.6" r="3.6" stroke-width="1.4"/><text x="0" y="0" transform="translate(215.5,733.5) skewX(-12)" font-size="11" font-family="Liberation Serif" font-weight="bold" fill="#fff" stroke="#000" stroke-width="0.5" text-anchor="middle">1</text><path d="M215,765 C217,761.5 222,760.5 224.5,762 C222.5,765.5 218,766.5 215.5,767.5" stroke-width="0.7" stroke="#333"/></g>
<path d="M55,747C54.3,744.7 54.3,742.2 55,740C55.7,737.8 56.5,735.3 59,734C61.5,732.7 66,732.2 70,732C74,731.8 79.2,733.3 83,733C86.8,732.7 89.5,730.8 93,730C96.5,729.2 101.3,727.8 104,728.5C106.7,729.2 107.2,731.6 109,734C110.8,736.4 113.2,741 115,743C116.8,745 118.3,745.9 120,746C121.7,746.1 123.8,743.2 125,743.5C126.2,743.8 126.7,745.9 127,748C127.3,750.1 127.7,753.8 127,756C126.3,758.2 124.3,759.5 123,761C121.7,762.5 120,762.5 119,765C118,767.5 117.8,772.8 117,776C116.2,779.2 116,782.2 114,784C112,785.8 108.5,786.2 105,787C101.5,787.8 97.2,787.8 93,789C88.8,790.2 83.8,792.7 80,794C76.2,795.3 72.5,797.3 70,797C67.5,796.7 66,794.5 65,792C64,789.5 64.7,784.7 64,782C63.3,779.3 61.8,779 61,776C60.2,773 59.3,767.7 59,764C58.7,760.3 59.7,756.8 59,754C58.3,751.2 55.7,749.3 55,747Z" stroke-width="1.31" fill="#fff"/>
<circle cx="80.5" cy="762.5" r="11.2" stroke-width="1.3"/>
<text x="0" y="0" transform="translate(108.5,777.5) rotate(-101)" font-family="Liberation Serif" font-weight="bold" font-size="10" fill="#fff" stroke="#000" stroke-width="0.45" textLength="41" lengthAdjust="spacingAndGlyphs">Master</text>
<path d="M40,786C43.3,785.7 56,783.3 60,784C64,784.7 63.3,789 64,790" stroke-width="0.90" fill="none"/>
<path d="M93,789C94.8,788.8 99.5,787.3 104,787.5C108.5,787.7 113.8,788.9 120,790C126.2,791.1 137.5,793.3 141,794" stroke-width="0.90" fill="none"/>
<path d="M66,793C64.3,795.5 58.7,801.8 56,808C53.3,814.2 51.3,822.7 50,830C48.7,837.3 48.3,848.3 48,852" stroke-width="0.90" fill="none"/>
<path d="M66,810C65,812.7 60.7,820.7 60,826C59.3,831.3 61.7,839.3 62,842" stroke-width="0.75" fill="none"/>
<path d="M44,818L43,852" stroke-width="0.75" fill="none"/>
<path d="M40,859C46.7,860.5 65,864.8 80,868C95,871.2 116.7,876 130,878C143.3,880 151.7,881.7 160,880C168.3,878.3 175.3,875.3 180,868C184.7,860.7 188,845 188,836C188,827 183,819 180,814C177,809 171.7,807.3 170,806" stroke-width="0.98" fill="none"/>
<path d="M106,814C108.7,811.2 109.3,809.3 120,809C130.7,808.7 161.3,809.2 170,812C178.7,814.8 173.7,816.7 172,826C170.3,835.3 168.7,863 160,868C151.3,873 129,859.7 120,856C111,852.3 108.7,851 106,846C103.3,841 104,831.3 104,826C104,820.7 103.3,816.8 106,814Z" stroke-width="0.98" fill="none"/>
<path d="M132,882C135.3,880.7 144.7,876 152,874C159.3,872 169,868.7 176,870C183,871.3 191,880 194,882" stroke-width="0.83" fill="none"/>
<path d="M180,874L184,882" stroke-width="0.75" fill="none"/>
<path d="M240,800C238.3,801.7 232,805 230,810C228,815 227.7,822.7 228,830C228.3,837.3 230,847.3 232,854C234,860.7 237.7,865.3 240,870C242.3,874.7 245,880 246,882" stroke-width="0.90" fill="none"/>
<path d="M263,736C268.8,734.4 278,734.3 285,734.5C292,734.7 298.3,735.2 305,737C311.7,738.8 313.5,740.2 325,745C336.5,749.8 365.8,743.2 374,766C382.2,788.8 388.3,871.3 374,882C359.7,892.7 306.2,841.3 288,830C269.8,818.7 271.3,818.7 265,814C258.7,809.3 254.5,806 250,802C245.5,798 240.7,793.5 238,790C235.3,786.5 234.8,784.8 234,781C233.2,777.2 232.8,771.3 233.5,767C234.2,762.7 235.2,758.8 238,755C240.8,751.2 245.8,747.2 250,744C254.2,740.8 257.2,737.6 263,736Z" stroke-width="0.00" fill="#fff" stroke="none"/>
<path d="M374,882C365,876.3 334.3,856.7 320,848C305.7,839.3 297.2,835.7 288,830C278.8,824.3 271.3,818.7 265,814C258.7,809.3 254.5,806 250,802C245.5,798 240.7,793.5 238,790C235.3,786.5 234.8,784.8 234,781C233.2,777.2 232.8,771.3 233.5,767C234.2,762.7 235.2,758.8 238,755C240.8,751.2 245.8,747.2 250,744C254.2,740.8 257.2,737.6 263,736C268.8,734.4 278,734.3 285,734.5C292,734.7 298.3,735.2 305,737C311.7,738.8 313.5,740.2 325,745C336.5,749.8 365.8,762.5 374,766" stroke-width="0.98" fill="none"/>
<path d="M262,738C259.8,739.2 257.8,741.3 255,745C252.2,748.7 247.7,755 245,760C242.3,765 239.8,770.7 239,775C238.2,779.3 237.3,783 240,786C242.7,789 248.3,790.5 255,793C261.7,795.5 273.7,799.5 280,801C286.3,802.5 288.8,803.3 293,802C297.2,800.7 302.2,797.2 305,793C307.8,788.8 309.5,781.7 310,777C310.5,772.3 309.8,768.3 308,765C306.2,761.7 303.3,760.2 299,757C294.7,753.8 287.2,749.2 282,746C276.8,742.8 271.3,738.8 268,737.5C264.7,736.2 264.2,736.8 262,738Z" stroke-width="0.98" fill="none"/>
<path d="M200,795C204.2,795.3 218.7,796 225,797C231.3,798 233,799.3 238,801C243,802.7 252.2,806 255,807" stroke-width="0.83" fill="none"/>
<path d="M339,765C335.8,770.8 324,789.8 320,800C316,810.2 315.8,821.7 315,826" stroke-width="0.75" fill="none"/>
<path d="M344,785C343,788.2 340.5,798.3 338,804C335.5,809.7 330.5,816.5 329,819" stroke-width="0.75" fill="none"/>
<path d="M360,776C358.7,781 355.8,798.7 352,806C348.2,813.3 339.5,817.7 337,820" stroke-width="0.75" fill="none"/>
<path d="M372,764L374,766" stroke-width="0.75" fill="none"/>
<path d="M374,846L367,859" stroke-width="0.75" fill="none"/></svg><!--/SVG-->
</body></html>
